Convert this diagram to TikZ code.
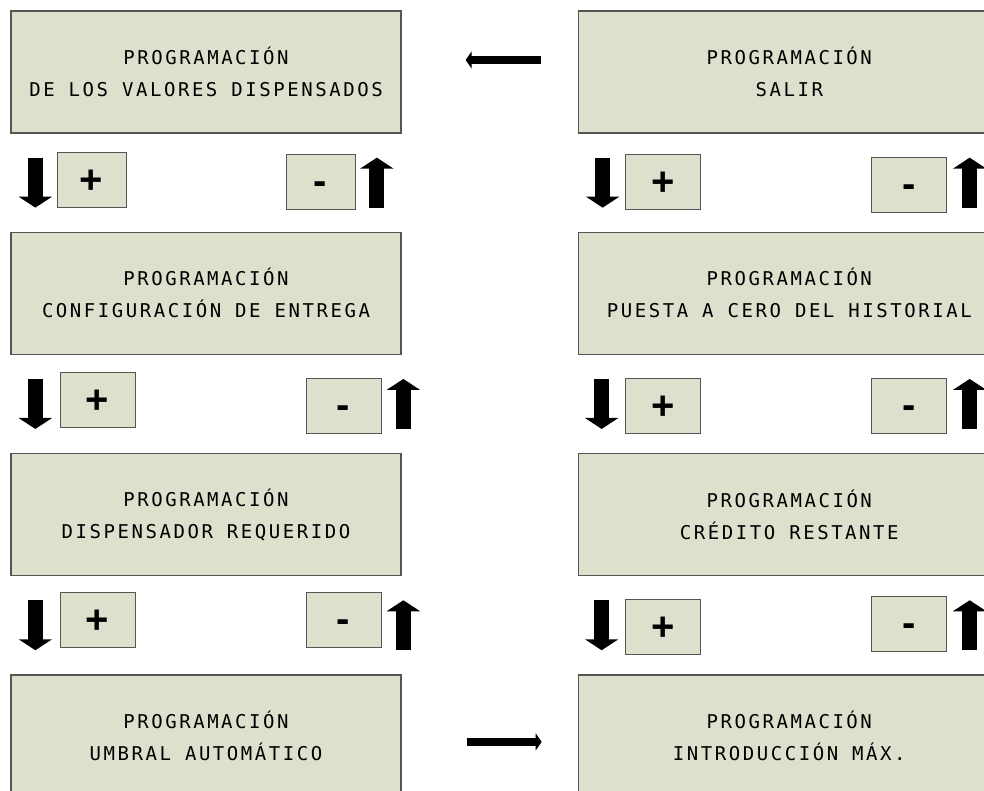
\documentclass[tikz,border=0pt]{standalone}
\usepackage{fontspec}
\newfontfamily\lcdfont[LetterSpace=13.4]{DejaVu Sans Mono}
\newfontfamily\keyfont{Liberation Sans}
\usetikzlibrary{positioning, arrows.meta}
\usepackage{xcolor}
\definecolor{lcd}{RGB}{221,224,204}
\definecolor{bezel}{RGB}{85,85,85}

\begin{document}
\begin{tikzpicture}[
    x=1pt, y=-1pt,
    node distance=98pt and 176pt,
    screen/.style={rectangle, draw=bezel, line width=1.3pt, fill=lcd, minimum width=390pt, minimum height=122pt, align=center, font=\lcdfont\fontsize{19}{32}\selectfont},
    widescreen/.style={screen, minimum width=422pt},
    key/.style={rectangle, draw=bezel, line width=0.9pt, fill=lcd, minimum width=75pt, minimum height=55pt, inner sep=0pt, font=\keyfont\bfseries\fontsize{40}{40}\selectfont},
    pluskey/.style={key, text height=27.5pt, text depth=0pt},
    minuskey/.style={key, text height=25.5pt, text depth=0pt},
    navarrow/.style={line width=15pt, -{Triangle[width=33pt, length=11pt]}, shorten <=24pt, shorten >=24pt},
    linkarrow/.style={line width=8pt, -{Triangle[width=17pt, length=6pt]}}
]
    \useasboundingbox (0,0) rectangle (984,791);
    \clip (0,0) rectangle (984,791);

    % menu screens, left column
    \node[screen] (valores) at (206,72) {PROGRAMACIÓN\\DE LOS VALORES DISPENSADOS};
    \node[screen] (entrega) [below=of valores] {PROGRAMACIÓN\\CONFIGURACIÓN DE ENTREGA};
    \node[screen] (requerido) [below=of entrega] {PROGRAMACIÓN\\DISPENSADOR REQUERIDO};
    \node[screen] (umbral) [below=of requerido] {PROGRAMACIÓN\\UMBRAL AUTOMÁTICO};

    % menu screens, right column
    \node[widescreen] (salir) [right=of valores] {PROGRAMACIÓN\\SALIR};
    \node[widescreen] (historial) [below=of salir] {PROGRAMACIÓN\\PUESTA A CERO DEL HISTORIAL};
    \node[widescreen] (credito) [below=of historial] {PROGRAMACIÓN\\CRÉDITO RESTANTE};
    \node[widescreen] (maximo) [below=of credito] {PROGRAMACIÓN\\INTRODUCCIÓN MÁX.};

    % push buttons
    \node[pluskey, minimum width=69pt] (masA) at (91.5,179.5) {+};
    \node[minuskey, minimum width=69pt] (menosA) at (320.5,181.5) {-};
    \node[pluskey] (masB) at (97.5,399.5) {+};
    \node[minuskey] (menosB) at (343.5,405.5) {-};
    \node[pluskey] (masC) at (97.5,620) {+};
    \node[minuskey] (menosC) at (343.5,620) {-};
    \node[pluskey] (masD) at (663,181.5) {+};
    \node[minuskey] (menosD) at (909,184.5) {-};
    \node[pluskey] (masE) at (663,405.5) {+};
    \node[minuskey] (menosE) at (909,405.5) {-};
    \node[pluskey] (masF) at (663,626.5) {+};
    \node[minuskey] (menosF) at (909,623.5) {-};

    % + goes down, - goes up
    \draw[navarrow] ([xshift=25pt]valores.south west) -- ([xshift=25pt]entrega.north west);
    \draw[navarrow] ([xshift=366.5pt]entrega.north west) -- ([xshift=366.5pt]valores.south west);
    \draw[navarrow] ([xshift=25pt]entrega.south west) -- ([xshift=25pt]requerido.north west);
    \draw[navarrow] ([xshift=393pt]requerido.north west) -- ([xshift=393pt]entrega.south west);
    \draw[navarrow] ([xshift=25pt]requerido.south west) -- ([xshift=25pt]umbral.north west);
    \draw[navarrow] ([xshift=393pt]umbral.north west) -- ([xshift=393pt]requerido.south west);
    \draw[navarrow] ([xshift=25pt]salir.south west) -- ([xshift=25pt]historial.north west);
    \draw[navarrow] ([xshift=392pt]historial.north west) -- ([xshift=392pt]salir.south west);
    \draw[navarrow] ([xshift=24pt]historial.south west) -- ([xshift=24pt]credito.north west);
    \draw[navarrow] ([xshift=392pt]credito.north west) -- ([xshift=392pt]historial.south west);
    \draw[navarrow] ([xshift=24pt]credito.south west) -- ([xshift=24pt]maximo.north west);
    \draw[navarrow] ([xshift=392pt]maximo.north west) -- ([xshift=392pt]credito.south west);

    % wrap between the columns
    \draw[linkarrow, shorten <=37pt, shorten >=64pt] ([yshift=12pt]salir.west) -- ([yshift=12pt]valores.east);
    \draw[linkarrow, shorten <=65pt, shorten >=36pt] ([yshift=-6pt]umbral.east) -- ([yshift=-6pt]maximo.west);
\end{tikzpicture}
\end{document}
